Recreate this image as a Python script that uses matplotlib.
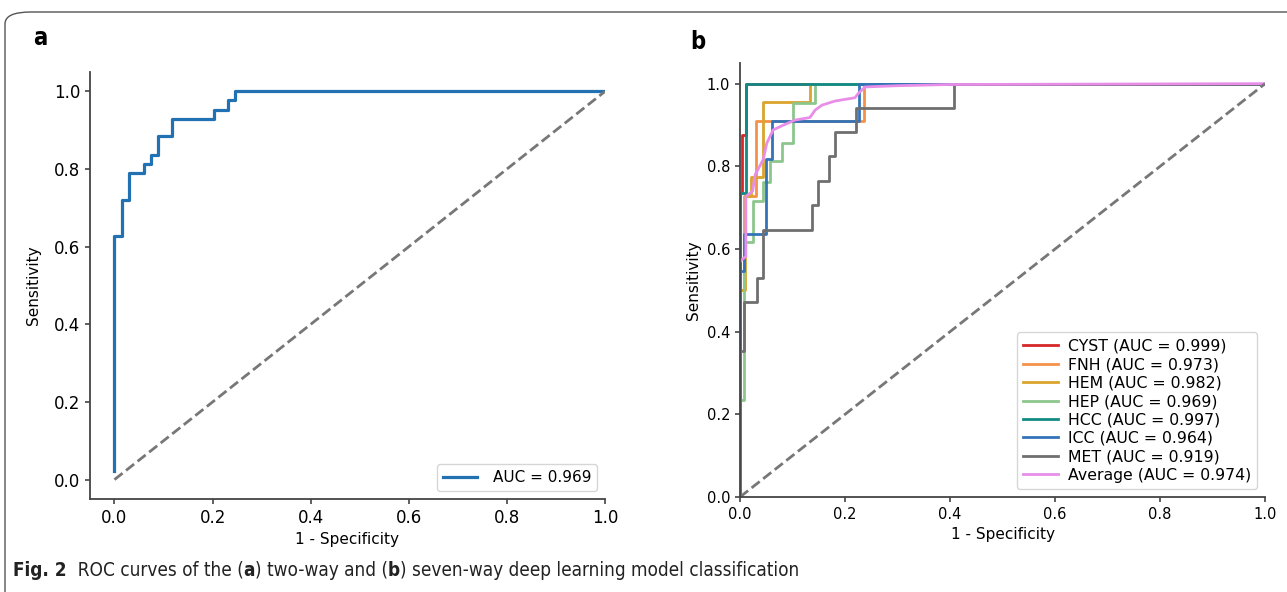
import matplotlib.pyplot as plt
from matplotlib.patches import FancyBboxPatch

# ---- panel a: two-way ROC ----
fpr_a = [0, 0, 0.015, 0.015, 0.03, 0.03, 0.06, 0.06, 0.074, 0.074, 0.088, 0.088,
         0.118, 0.118, 0.203, 0.203, 0.232, 0.232, 0.246, 0.246, 1.0]
tpr_a = [0.023, 0.628, 0.628, 0.721, 0.721, 0.791, 0.791, 0.814, 0.814, 0.837, 0.837,
         0.884, 0.884, 0.93, 0.93, 0.953, 0.953, 0.977, 0.977, 1.0, 1.0]
auc_a = 0.969

# ---- panel b: seven-way ROC ----
names = ['CYST', 'FNH', 'HEM', 'HEP', 'HCC', 'ICC', 'MET', 'Average']
aucs = [0.999, 0.973, 0.982, 0.969, 0.997, 0.964, 0.919, 0.974]
colors = ['#d62728', '#f5924a', '#dba42c', '#8cc68c', '#138a84', '#3373b8', '#6f6f6f', '#e88ee8']

fpr_cyst = [0, 0, 0.003, 0.003, 0.011, 0.011, 1]
tpr_cyst = [0, 0.735, 0.735, 0.876, 0.876, 1, 1]
fpr_fnh = [0, 0, 0.008, 0.008, 0.03, 0.03, 0.236, 0.236, 1]
tpr_fnh = [0, 0.5, 0.5, 0.727, 0.727, 0.909, 0.909, 1, 1]
fpr_hem = [0, 0, 0.01, 0.01, 0.02, 0.02, 0.044, 0.044, 0.133, 0.133, 1]
tpr_hem = [0, 0.5, 0.5, 0.727, 0.727, 0.773, 0.773, 0.955, 0.955, 1, 1]
fpr_hep = [0, 0, 0.008, 0.008, 0.024, 0.024, 0.044, 0.044, 0.058, 0.058, 0.079, 0.079,
           0.1, 0.1, 0.143, 0.143, 1]
tpr_hep = [0, 0.235, 0.235, 0.618, 0.618, 0.715, 0.715, 0.761, 0.761, 0.812, 0.812,
           0.856, 0.856, 0.953, 0.953, 1, 1]
fpr_hcc = [0, 0, 0.011, 0.011, 1]
tpr_hcc = [0, 0.735, 0.735, 1, 1]
fpr_icc = [0, 0, 0.008, 0.008, 0.05, 0.05, 0.06, 0.06, 0.227, 0.227, 1]
tpr_icc = [0, 0.546, 0.546, 0.637, 0.637, 0.818, 0.818, 0.909, 0.909, 1, 1]
fpr_met = [0, 0, 0.008, 0.008, 0.033, 0.033, 0.043, 0.043, 0.138, 0.138, 0.149, 0.149,
           0.17, 0.17, 0.181, 0.181, 0.221, 0.221, 0.408, 0.408, 1]
tpr_met = [0, 0.353, 0.353, 0.471, 0.471, 0.529, 0.529, 0.647, 0.647, 0.706, 0.706,
           0.765, 0.765, 0.824, 0.824, 0.882, 0.882, 0.941, 0.941, 1, 1]
fpr_avg = [0, 0.011, 0.011, 0.024, 0.029, 0.044, 0.051, 0.063, 0.083, 0.105, 0.133,
           0.143, 0.156, 0.181, 0.219, 0.225, 0.238, 0.298, 0.4, 1.0]
tpr_avg = [0.57, 0.582, 0.727, 0.74, 0.78, 0.816, 0.856, 0.888, 0.9, 0.912, 0.918,
           0.936, 0.948, 0.958, 0.966, 0.976, 0.992, 0.995, 0.998, 1.0]

fprs = [fpr_cyst, fpr_fnh, fpr_hem, fpr_hep, fpr_hcc, fpr_icc, fpr_met, fpr_avg]
tprs = [tpr_cyst, tpr_fnh, tpr_hem, tpr_hep, tpr_hcc, tpr_icc, tpr_met, tpr_avg]

ticks = [0.0, 0.2, 0.4, 0.6, 0.8, 1.0]

fig = plt.figure(figsize=(12.87, 5.92), dpi=100)

# panel a
ax1 = fig.add_axes([0.0699, 0.1571, 0.4002, 0.7213])
ax1.plot(fpr_a, tpr_a, color='#2271b3', lw=2.3, label='AUC = %.3f' % auc_a)
ax1.plot([0, 1], [0, 1], color='#777777', lw=2, ls='--')
ax1.set_xlim([-0.05, 1.0])
ax1.set_ylim([-0.05, 1.05])
ax1.set_xticks(ticks)
ax1.set_yticks(ticks)
ax1.tick_params(labelsize=12, color='#444444', width=1.2)
ax1.set_xlabel('1 - Specificity', fontsize=11)
ax1.set_ylabel('Sensitivity', fontsize=11, labelpad=9)
ax1.legend(loc='lower right', fontsize=11, handlelength=2.2, handletextpad=1.05)

# panel b
ax2 = fig.add_axes([0.575, 0.1605, 0.408, 0.7331])
for f, t, n, a, c in zip(fprs, tprs, names, aucs, colors):
    ax2.plot(f, t, color=c, lw=2, label='%s (AUC = %.3f)' % (n, a))
ax2.plot([0, 1], [0, 1], color='#777777', lw=2, ls='--')
ax2.set_xlim([0.0, 1.0])
ax2.set_ylim([0.0, 1.05])
ax2.set_xticks(ticks)
ax2.set_yticks(ticks)
ax2.tick_params(labelsize=10.5, color='#444444', width=1.2)
ax2.set_xlabel('1 - Specificity', fontsize=11)
ax2.set_ylabel('Sensitivity', fontsize=11)
ax2.legend(loc='lower right', fontsize=11.3, handlelength=2.2, handletextpad=0.65,
           labelspacing=0.22)

for ax in (ax1, ax2):
    ax.spines['top'].set_visible(False)
    ax.spines['right'].set_visible(False)
    ax.spines['left'].set_color('#444444')
    ax.spines['bottom'].set_color('#444444')
    ax.spines['left'].set_linewidth(1.3)
    ax.spines['bottom'].set_linewidth(1.3)

# panel letters
cap_font = ['DejaVu Sans']
fig.text(33 / 1287, 1 - 38 / 592, 'a', fontsize=17, fontweight='bold', family=cap_font,
         fontstretch='condensed', va='center')
fig.text(690 / 1287, 1 - 42 / 592, 'b', fontsize=17, fontweight='bold', family=cap_font,
         fontstretch='condensed', va='center')

# frame
frame = FancyBboxPatch((5 / 1287, -0.2), 1.2, 1 - 12 / 592 + 0.2,
                       boxstyle='round,pad=0,rounding_size=0.02',
                       transform=fig.transFigure, fill=False, ec='#555555', lw=1)
fig.patches.append(frame)

# caption, laid out piece by piece
pieces = [('Fig. 2', 'bold'), ('  ROC curves of the (', 'normal'), ('a', 'bold'),
          (') two-way and (', 'normal'), ('b', 'bold'),
          (') seven-way deep learning model classification', 'normal')]
renderer = fig.canvas.get_renderer()
x = 13 / 1287
for s, w in pieces:
    t = fig.text(x, 1 - 570 / 592, s, fontsize=13.6, fontweight=w, family=cap_font,
                 fontstretch='condensed', va='center', color='#222222')
    bb = t.get_window_extent(renderer=renderer)
    x += bb.width / fig.bbox.width

fig.savefig('out.png', dpi=100)
